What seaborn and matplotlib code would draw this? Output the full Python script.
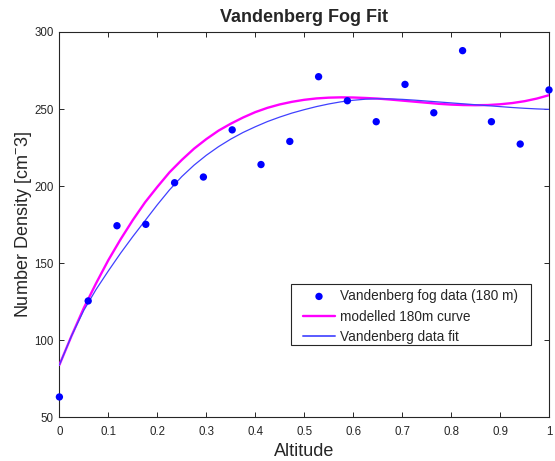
import matplotlib
matplotlib.use("Agg")
import matplotlib.pyplot as plt
from matplotlib.patches import Rectangle
import seaborn as sns
import pandas as pd

# ---- data ----
data_x = [0.0, 0.0588, 0.1176, 0.1765, 0.2353, 0.2941, 0.3529, 0.4118, 0.4706,
          0.5294, 0.5882, 0.6471, 0.7059, 0.7647, 0.8235, 0.8824, 0.9412, 1.0]
data_y = [63.2, 125.5, 174.3, 175.2, 202.2, 205.9, 236.5, 214.0, 229.0,
          271.0, 255.4, 241.8, 266.0, 247.6, 287.9, 241.8, 227.3, 262.4]

curve_x = [0.0, 0.025, 0.05, 0.075, 0.1, 0.125, 0.15, 0.175, 0.2, 0.225,
           0.25, 0.275, 0.3, 0.325, 0.35, 0.375, 0.4, 0.425, 0.45, 0.475,
           0.5, 0.525, 0.55, 0.575, 0.6, 0.625, 0.65, 0.675, 0.7, 0.725,
           0.75, 0.775, 0.8, 0.825, 0.85, 0.875, 0.9, 0.925, 0.95, 0.975, 1.0]
model_y = [84.0, 103.0, 121.0, 137.0, 152.0, 165.5, 178.0, 189.5, 199.5, 209.0,
           217.0, 224.3, 230.5, 236.0, 240.5, 244.5, 248.0, 250.8, 253.0, 254.7,
           256.0, 256.9, 257.4, 257.6, 257.5, 257.2, 256.8, 256.2, 255.5, 254.8,
           254.1, 253.4, 252.9, 252.6, 252.5, 252.6, 253.1, 253.9, 255.1, 256.8, 259.0]
fit_y = [84.0, 103.0, 119.5, 133.0, 145.0, 156.5, 167.3, 177.6, 187.9, 197.6,
         206.2, 213.6, 220.0, 225.6, 230.5, 234.8, 238.5, 241.9, 244.8, 247.4,
         249.6, 251.6, 253.3, 254.7, 255.7, 256.4, 256.7, 256.6, 256.3, 255.8,
         255.2, 254.6, 254.0, 253.4, 252.8, 252.2, 251.6, 251.0, 250.5, 250.1, 249.8]

labels = ["Vandenberg fog data (180 m)", "modelled 180m curve", "Vandenberg data fit"]
x_ticks = [0, 0.1, 0.2, 0.3, 0.4, 0.5, 0.6, 0.7, 0.8, 0.9, 1]
x_tick_labels = ["0", "0.1", "0.2", "0.3", "0.4", "0.5", "0.6", "0.7", "0.8", "0.9", "1"]
y_ticks = [50, 100, 150, 200, 250, 300]

sns.set_style("ticks")
plt.rcParams["font.family"] = ["Liberation Sans", "DejaVu Sans"]
plt.rcParams["mathtext.fontset"] = "custom"
plt.rcParams["mathtext.rm"] = "Liberation Sans"
plt.rcParams["mathtext.it"] = "Liberation Sans"

W, H = 555, 461
fig = plt.figure(figsize=(W / 100, H / 100), dpi=100)
ax = fig.add_axes([59.4 / W, 1 - 417.3 / H, (549 - 59.4) / W, (417.3 - 32) / H])

df_data = pd.DataFrame({"x": data_x, "y": data_y})
df_model = pd.DataFrame({"x": curve_x, "y": model_y})
df_fit = pd.DataFrame({"x": curve_x, "y": fit_y})

sns.lineplot(data=df_model, x="x", y="y", ax=ax, color="#ff00ff", linewidth=1.7,
             estimator=None, sort=False, label=labels[1], zorder=3)
sns.lineplot(data=df_fit, x="x", y="y", ax=ax, color="#4040ff", linewidth=0.9,
             estimator=None, sort=False, label=labels[2], zorder=4)
sns.scatterplot(data=df_data, x="x", y="y", ax=ax, color="#0000ff", s=28,
                edgecolor="none", label=labels[0], zorder=5, clip_on=False)

ax.set_xlim(0, 1)
ax.set_ylim(50, 300)
ax.set_xticks(x_ticks)
ax.set_xticklabels(x_tick_labels)
ax.set_yticks(y_ticks)
ax.set_autoscale_on(False)

for s in ax.spines.values():
    s.set_visible(True)
    s.set_color("#262626")
    s.set_linewidth(0.8)

ax.tick_params(axis="both", direction="in", length=3.5, width=0.7, color="#262626",
               labelsize=8.3, labelcolor="#262626", top=True, right=True)
ax.tick_params(axis="x", pad=6)
ax.tick_params(axis="y", pad=4)

ax.set_title("Vandenberg Fog Fit", fontsize=13, fontweight="bold", pad=7)
ax.set_xlabel("Altitude", fontsize=13, color="#262626", labelpad=4)
ax.set_ylabel(r"Number Density [cm$^{-}$3]", fontsize=13, color="#262626", labelpad=0)

handles, labs = ax.get_legend_handles_labels()
order = [labs.index(l) for l in labels]
leg = ax.legend([handles[i] for i in order], [labs[i] for i in order],
                loc="upper left", bbox_to_anchor=(303 / W, 1 - 289 / H),
                bbox_transform=fig.transFigure, borderaxespad=0, borderpad=0,
                fontsize=9.8, frameon=False,
                handlelength=2.35, handletextpad=0.37, labelspacing=0.48)
leg.set_zorder(8)
for ln in leg.get_lines():
    if ln.get_label() == labels[2]:
        ln.set_linewidth(1.4)
        ln.set_color("#5a5aff")
box = Rectangle((291 / W, 1 - 345 / H), (531 - 291) / W, (345 - 284) / H,
                transform=fig.transFigure, facecolor="white",
                edgecolor="#262626", linewidth=0.8, zorder=7, clip_on=False)
ax.add_artist(box)

fig.savefig("out.png", dpi=100)
